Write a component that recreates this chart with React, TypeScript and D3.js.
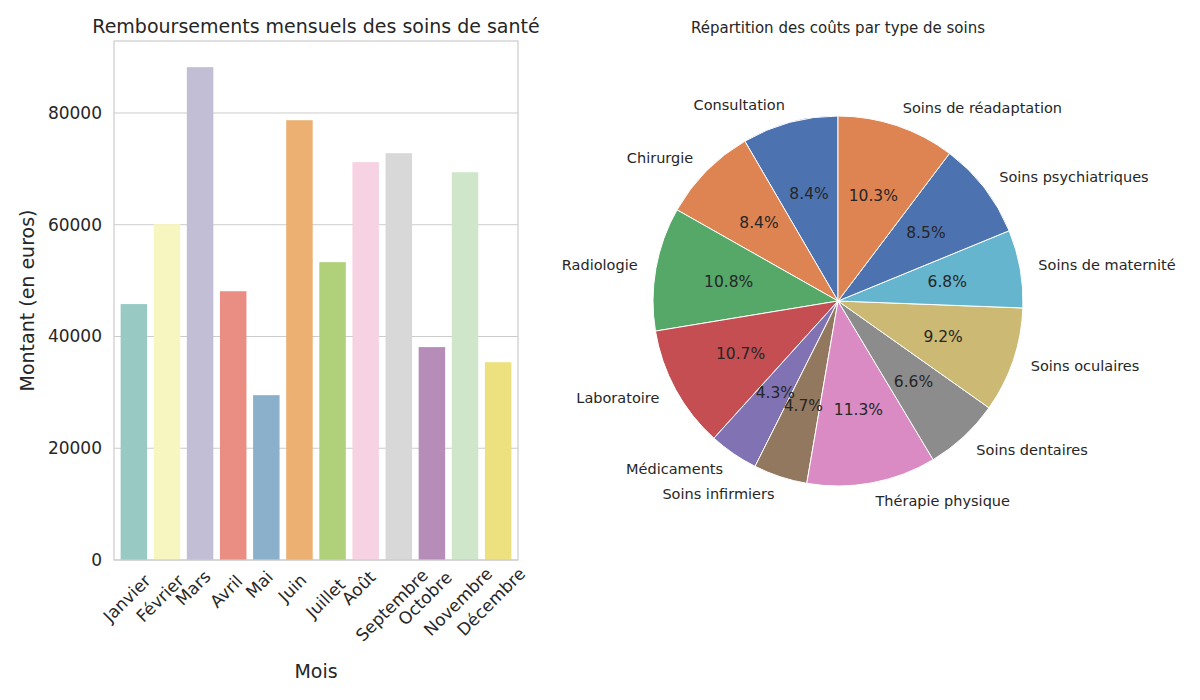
import React from "react";
import * as d3 from "d3";

const months = ["Janvier", "Février", "Mars", "Avril", "Mai", "Juin", "Juillet", "Août", "Septembre", "Octobre", "Novembre", "Décembre"];
const amounts = [45800, 60100, 88200, 48100, 29500, 78700, 53300, 71200, 72800, 38100, 69400, 35400];
const barColors = ["#98cac3", "#f7f6c0", "#c2bed6", "#ea8e83", "#8bb0cb", "#ebb072", "#b0d17a", "#f6d2e3", "#d8d8d8", "#b68cb8", "#cfe6cb", "#ede07f"];
const yTicks = [0, 20000, 40000, 60000, 80000];

const careTypes = ["Consultation", "Chirurgie", "Radiologie", "Laboratoire", "Médicaments", "Soins infirmiers", "Thérapie physique", "Soins dentaires", "Soins oculaires", "Soins de maternité", "Soins psychiatriques", "Soins de réadaptation"];
const careShares = [8.4, 8.4, 10.8, 10.7, 4.3, 4.7, 11.3, 6.6, 9.2, 6.8, 8.5, 10.3];
const pieColors = ["#4c72b0", "#dd8452", "#55a868", "#c44e52", "#8172b3", "#937860", "#da8bc3", "#8c8c8c", "#ccb974", "#64b5cd", "#4c72b0", "#dd8452"];

const font = "DejaVu Sans, sans-serif";

export default function App() {
  // bar chart frame
  const left = 114, right = 518, top = 41, bottom = 560;
  const x = d3.scaleBand().domain(months).range([left, right]).padding(0.2);
  const y = d3.scaleLinear().domain([0, 92880]).range([bottom, top]);

  // pie
  const cx = 838, cy = 301, r = 185;
  const pie = d3.pie<number>().sort(null).startAngle(0).endAngle(-2 * Math.PI);
  const arcs = pie(careShares);
  const arc = d3.arc<d3.PieArcDatum<number>>().innerRadius(0).outerRadius(r);

  return (
    <svg width={1200} height={700} style={{ position: "absolute", left: 0, top: 0, background: "#fff" }} fontFamily={font}>
      {/* bar chart */}
      {yTicks.map((t) => (
        <g key={t}>
          <line x1={left} x2={right} y1={y(t)} y2={y(t)} stroke="#cccccc" strokeWidth={1} />
          <text x={left - 12} y={y(t)} textAnchor="end" dominantBaseline="central" fontSize={17} fill="#262626">{t}</text>
        </g>
      ))}
      {months.map((m, i) => (
        <rect key={m} x={x(m)} y={y(amounts[i])} width={x.bandwidth()} height={bottom - y(amounts[i])} fill={barColors[i]} />
      ))}
      <rect x={left} y={top} width={right - left} height={bottom - top} fill="none" stroke="#cccccc" strokeWidth={1.2} />
      {months.map((m) => {
        const cxl = (x(m) as number) + x.bandwidth() / 2 - 7;
        const w = m.length * 9.8;
        const cyl = bottom + 8 + (w * 0.707 + 12) / 2;
        return (
          <text key={m} x={cxl} y={cyl} textAnchor="middle" dominantBaseline="central" fontSize={17} fill="#262626"
            transform={`rotate(-45 ${cxl} ${cyl})`}>{m}</text>
        );
      })}
      <text x={316} y={678} textAnchor="middle" fontSize={19} fill="#262626">Mois</text>
      <text transform={`translate(34 ${(top + bottom) / 2}) rotate(-90)`} textAnchor="middle" fontSize={19} fill="#262626">Montant (en euros)</text>
      <text x={316} y={33} textAnchor="middle" fontSize={19} fill="#262626">Remboursements mensuels des soins de santé</text>

      {/* pie chart */}
      <text x={cx} y={33} textAnchor="middle" fontSize={15} fill="#262626">Répartition des coûts par type de soins</text>
      <g transform={`translate(${cx} ${cy})`}>
        {arcs.map((a, i) => (
          <path key={i} d={arc(a) as string} fill={pieColors[i]} stroke="#fff" strokeWidth={1} />
        ))}
        {arcs.map((a, i) => {
          const mid = (a.startAngle + a.endAngle) / 2;
          const sx = Math.sin(mid), sy = -Math.cos(mid);
          return (
            <g key={i}>
              <text x={sx * r * 0.6} y={sy * r * 0.6} textAnchor="middle" dominantBaseline="central" fontSize={15.5} fill="#262626">
                {careShares[i].toFixed(1)}%
              </text>
              <text x={sx * r * 1.1} y={sy * r * 1.1} textAnchor={sx < 0 ? "end" : "start"} dominantBaseline="central" fontSize={14.5} fill="#262626">
                {careTypes[i]}
              </text>
            </g>
          );
        })}
      </g>
    </svg>
  );
}
